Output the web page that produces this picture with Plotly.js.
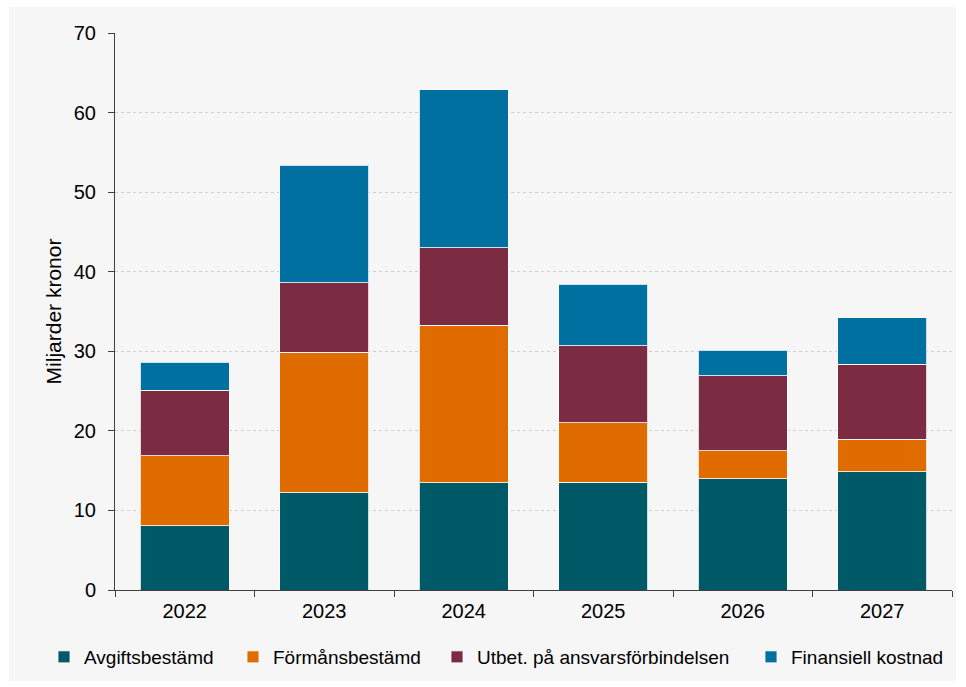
<!DOCTYPE html>
<html>
<head>
<meta charset="utf-8">
<script src="https://cdn.plot.ly/plotly-3.0.1.min.js"></script>
<style>
  html, body { margin: 0; padding: 0; background: #ffffff; }
  #chart { position: absolute; left: 9px; top: 7px; width: 947px; height: 674px; }
</style>
</head>
<body>
<div id="chart"></div>
<script>
const years = ['2022', '2023', '2024', '2025', '2026', '2027'];
const avgiftsbestamd = [8.1, 12.2, 13.5, 13.55, 14.0, 14.85];
const formansbestamd = [8.8, 17.65, 19.8, 7.45, 3.5, 4.1];
const utbetAnsvar = [8.2, 8.75, 9.7, 9.7, 9.4, 9.4];
const finansiellKostnad = [3.5, 14.8, 19.85, 7.75, 3.2, 5.85];
const seriesNames = ['Avgiftsbestämd', 'Förmånsbestämd', 'Utbet. på ansvarsförbindelsen', 'Finansiell kostnad'];
const seriesColors = ['#005966', '#E06C00', '#7B2C42', '#0070A0'];
const yTicks = [0, 10, 20, 30, 40, 50, 60, 70];

const legendIds = ['legend', 'legend2', 'legend3', 'legend4'];
const legendLeft = [35, 224, 428, 742];

const seriesValues = [avgiftsbestamd, formansbestamd, utbetAnsvar, finansiellKostnad];
const traces = seriesValues.map((vals, i) => ({
  type: 'bar',
  name: seriesNames[i],
  x: years,
  y: vals,
  legend: legendIds[i],
  marker: { color: seriesColors[i], line: { color: 'rgba(255,255,255,0.8)', width: 1 } },
  hoverinfo: 'x+y+name'
}));

const font = { family: 'Liberation Sans, Arial, sans-serif', color: '#000000' };
const W = 947, H = 674;

const layout = {
  barmode: 'stack',
  bargap: 0.36,
  paper_bgcolor: '#f6f6f6',
  plot_bgcolor: '#f6f6f6',
  font: Object.assign({ size: 19 }, font),
  margin: { l: 106, r: 4, t: 26, b: 91, autoexpand: false },
  showlegend: true,
  xaxis: {
    type: 'category',
    automargin: false,
    showline: true,
    linecolor: '#404040',
    linewidth: 1,
    ticks: 'outside',
    tickson: 'boundaries',
    ticklen: 6,
    tickcolor: '#404040',
    showgrid: false,
    ticklabelstandoff: 3,
    tickfont: Object.assign({ size: 20 }, font)
  },
  yaxis: {
    range: [0, 70],
    automargin: false,
    tickvals: yTicks,
    ticktext: yTicks.map(String),
    showline: true,
    linecolor: '#404040',
    linewidth: 1,
    ticks: 'outside',
    ticklen: 6,
    tickcolor: '#404040',
    showgrid: true,
    gridcolor: '#cfcfcf',
    griddash: 'dot',
    gridwidth: 1,
    zeroline: false,
    ticklabelstandoff: 8,
    tickfont: Object.assign({ size: 20 }, font),
    title: { text: 'Miljarder kronor', font: Object.assign({ size: 21 }, font), standoff: 6 }
  }
};

legendIds.forEach((id, i) => {
  layout[id] = {
    orientation: 'h',
    xref: 'container', yref: 'container',
    x: legendLeft[i] / W, xanchor: 'left',
    y: 1 - 650 / H, yanchor: 'middle',
    font: Object.assign({ size: 19 }, font),
    itemwidth: 30,
    bgcolor: 'rgba(0,0,0,0)'
  };
});

Plotly.newPlot('chart', traces, layout, { displayModeBar: false, responsive: false });
</script>
</body>
</html>
